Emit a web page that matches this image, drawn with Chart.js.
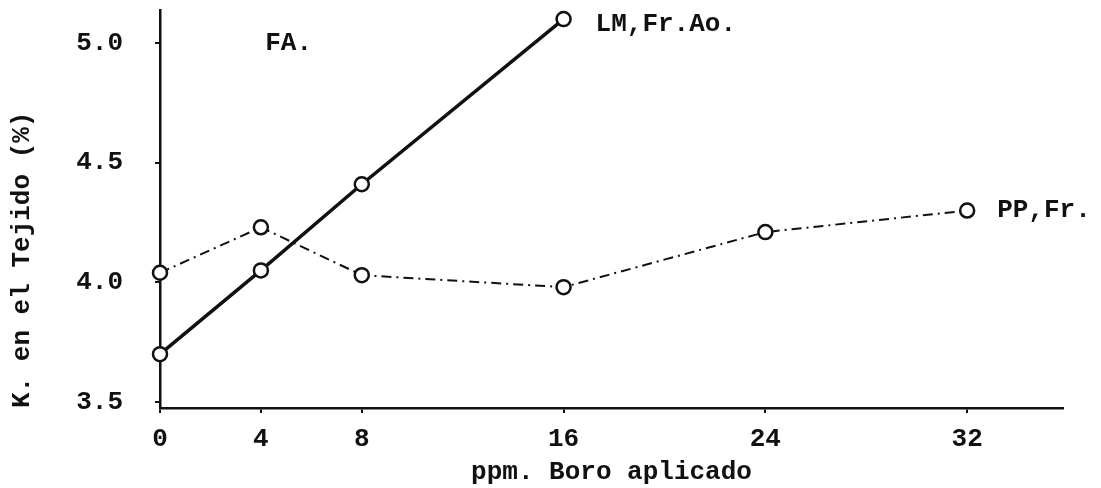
<!DOCTYPE html>
<html>
<head>
<meta charset="utf-8">
<script src="https://cdn.jsdelivr.net/npm/chart.js@4/dist/chart.umd.min.js"></script>
<style>
  html, body { margin: 0; padding: 0; background: #fff; }
  #wrap { width: 1101px; height: 488px; }
</style>
</head>
<body>
<div id="wrap"><canvas id="c" width="1101" height="488"></canvas></div>
<script>
// Boron applied (ppm) and potassium content in tissue (%)
const boronLM = [0, 4, 8, 16];
const potassiumLM = [3.70, 4.05, 4.41, 5.10];
const boronPP = [0, 4, 8, 16, 24, 32];
const potassiumPP = [4.04, 4.23, 4.03, 3.98, 4.21, 4.30];

const xTicks = [0, 4, 8, 16, 24, 32];
const yTicks = [3.5, 4.0, 4.5, 5.0];

const seriesNames = ['LM,Fr.Ao.', 'PP,Fr.'];
const panelLabel = 'FA.';
const panelLabelAt = [5.1, 5.0];

const INK = '#111';
const FONT = "'Liberation Mono', 'DejaVu Sans Mono', monospace";

const toPoints = (xs, ys) => xs.map((x, i) => ({ x: x, y: ys[i] }));

// Writes the series names beside their last point, and the panel label
const notes = {
  id: 'notes',
  afterDatasetsDraw(chart) {
    const { ctx, scales } = chart;
    ctx.save();
    ctx.fillStyle = INK;
    ctx.font = 'bold 26px ' + FONT;
    ctx.textBaseline = 'middle';
    ctx.textAlign = 'left';
    const offsets = [[32, 5], [30, 0]];
    chart.data.datasets.forEach((ds, i) => {
      const meta = chart.getDatasetMeta(i);
      const last = meta.data[meta.data.length - 1];
      ctx.fillText(seriesNames[i], last.x + offsets[i][0], last.y + offsets[i][1]);
    });
    ctx.textAlign = 'center';
    ctx.fillText(panelLabel,
      scales.x.getPixelForValue(panelLabelAt[0]),
      scales.y.getPixelForValue(panelLabelAt[1]));
    ctx.restore();
  }
};

const pointStyle = {
  pointRadius: 7,
  pointHoverRadius: 7,
  pointBorderWidth: 2.5,
  pointBorderColor: INK,
  pointBackgroundColor: '#fff',
  clip: false
};

new Chart(document.getElementById('c'), {
  type: 'scatter',
  data: {
    datasets: [
      Object.assign({
        label: seriesNames[0],
        data: toPoints(boronLM, potassiumLM),
        showLine: true,
        borderColor: INK,
        borderWidth: 3.5,
        tension: 0
      }, pointStyle),
      Object.assign({
        label: seriesNames[1],
        data: toPoints(boronPP, potassiumPP),
        showLine: true,
        borderColor: INK,
        borderWidth: 2,
        borderDash: [10, 5, 2, 5],
        tension: 0
      }, pointStyle)
    ]
  },
  options: {
    responsive: false,
    animation: false,
    events: [],
    layout: { padding: { top: 10, right: 38, left: 0, bottom: 0 } },
    plugins: {
      legend: { display: false },
      tooltip: { enabled: false }
    },
    scales: {
      x: {
        type: 'linear',
        min: 0,
        max: 35.8,
        afterFit(scale) {
          scale.height = 80;
          scale.paddingLeft = 0;
          scale.paddingRight = 0;
        },
        afterBuildTicks(scale) { scale.ticks = xTicks.map(v => ({ value: v })); },
        border: { display: true, color: INK, width: 2.5 },
        grid: { drawOnChartArea: false, drawTicks: true, tickLength: 5, color: INK, lineWidth: 2 },
        ticks: {
          color: INK,
          padding: 11,
          font: { family: FONT, size: 26, weight: 'bold' },
          callback: v => String(v)
        },
        title: {
          display: true,
          text: 'ppm. Boro aplicado',
          color: INK,
          padding: { top: 0, bottom: 0 },
          font: { family: FONT, size: 26, weight: 'bold' }
        }
      },
      y: {
        type: 'linear',
        min: 3.475,
        max: 5.138,
        afterFit(scale) {
          scale.width = 160;
          scale.paddingTop = 0;
          scale.paddingBottom = 0;
        },
        afterBuildTicks(scale) { scale.ticks = yTicks.map(v => ({ value: v })); },
        border: { display: true, color: INK, width: 2.5 },
        grid: { drawOnChartArea: false, drawTicks: true, tickLength: 5, color: INK, lineWidth: 2 },
        ticks: {
          color: INK,
          padding: 32,
          font: { family: FONT, size: 26, weight: 'bold' },
          callback: v => v.toFixed(1)
        },
        title: {
          display: true,
          text: 'K. en el Tejido (%)',
          align: 'start',
          color: INK,
          padding: { top: 7, bottom: 0 },
          font: { family: FONT, size: 26, weight: 'bold' }
        }
      }
    }
  },
  plugins: [notes]
});
</script>
</body>
</html>
